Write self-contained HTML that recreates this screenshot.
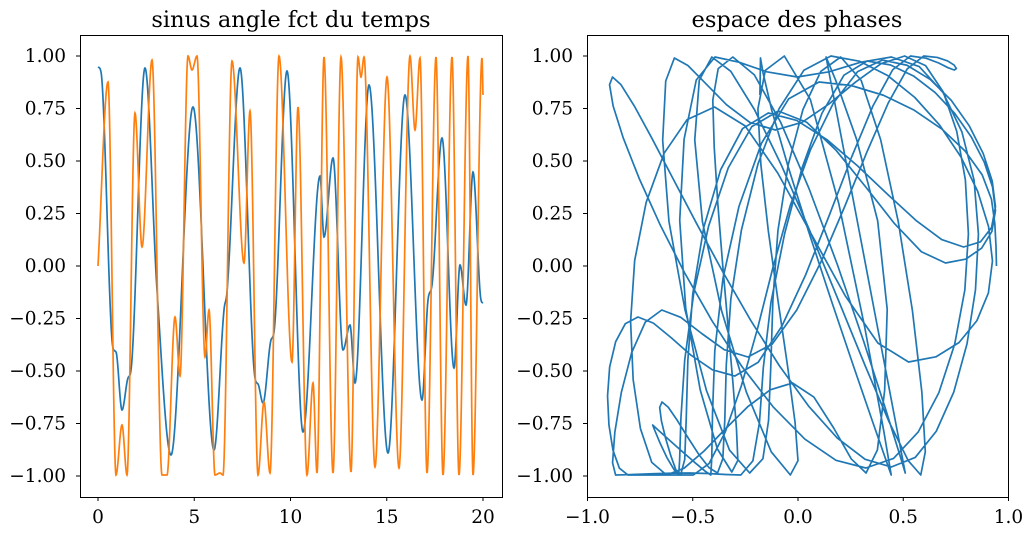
<!DOCTYPE html>
<html><head><meta charset="utf-8"><style>
body{margin:0;background:#fff;}
svg text{font-family:"DejaVu Serif","Liberation Serif",serif;font-size:18.5px;fill:#000;}
</style></head><body>
<svg id="s" width="1034" height="535" xmlns="http://www.w3.org/2000/svg">
<rect width="1034" height="535" fill="#fff"/>
<text x="291" y="27" text-anchor="middle" style="font-size:22.5px">sinus angle fct du temps</text>
<text x="797" y="27" text-anchor="middle" style="font-size:22.5px">espace des phases</text>
<g id="g"></g>
<rect x="80.5" y="35.5" width="422" height="462" fill="none" stroke="#000" stroke-width="1"/>
<rect x="587.5" y="35.5" width="421" height="462" fill="none" stroke="#000" stroke-width="1"/>
</svg>
<script>
function mono(P){var n=P.length,d=[],m=[];for(var i=0;i<n-1;i++)d.push((P[i+1][1]-P[i][1])/(P[i+1][0]-P[i][0]));
m[0]=d[0];m[n-1]=d[n-2];for(i=1;i<n-1;i++){m[i]=(d[i-1]*d[i]<=0)?0:(d[i-1]+d[i])/2;}
for(i=0;i<n-1;i++){if(d[i]==0){m[i]=m[i+1]=0;continue;}var a=m[i]/d[i],b=m[i+1]/d[i],s=a*a+b*b;if(s>9){var t=3/Math.sqrt(s);m[i]=t*a*d[i];m[i+1]=t*b*d[i];}}
return function(x){var k=0;while(k<n-2&&x>P[k+1][0])k++;var h=P[k+1][0]-P[k][0],t=(x-P[k][0])/h,t2=t*t,t3=t2*t;
return (2*t3-3*t2+1)*P[k][1]+(t3-2*t2+t)*h*m[k]+(-2*t3+3*t2)*P[k+1][1]+(t3-t2)*h*m[k+1];};}
var B=[[98,67],[101,72],[113,348],[116,352],[122,410],[128,378],[131,370],[145,68],[157,290],[171,455],[193,107],[214,450],[224,310],[227,292],[240,68],[255,378],[258,384],[263,403],[271,340],[274,332],[287,71],[303,432],[320,176],[324,237],[333,158],[343,350],[350,325],[355,383],[369,85],[388,453],[405,95],[422,400],[428,300],[432,285],[442,138],[454,368],[460,265],[466,305],[473,172],[481,300],[483,303]];
var O=[[98,266],[108,82],[116,475],[122,425],[127,475],[135,113],[142,247],[152,60],[162,475],[167,475],[175,317],[180,376],[188,56],[192,70],[197,56],[205,357],[209,310],[215,475],[220,473],[223,475],[232,61],[244,263],[250,111],[258,475],[264,402],[270,473],[279,56],[292,362],[298,107],[307,475],[313,383],[317,473],[324,57],[333,473],[341,57],[351,472],[358,57],[361,77],[364,57],[375,467],[387,77],[399,468],[410,56],[415,130],[420,58],[427,473],[436,57],[443,475],[452,57],[459,475],[468,56],[473,475],[482,58],[483,95]];
var fb=mono(B),fo=mono(O),pb="",po="",pp="";
for(var x=98;x<=483.001;x+=0.25){var yb=fb(x),yo=fo(x);pb+=(x==98?"M":"L")+x.toFixed(2)+","+yb.toFixed(2);po+=(x==98?"M":"L")+x.toFixed(2)+","+yo.toFixed(2);}
for(x=98;x<=483.001;x+=1){var yb=fb(x),yo=fo(x);var bv=(266-yb)/210,ov=(266-yo)/210;pp+=(x==98?"M":"L")+(797+210.5*bv).toFixed(2)+","+(266-210*ov).toFixed(2);}
var h="";
h+='<path d="'+pb+'" fill="none" stroke="#1f77b4" stroke-width="1.7"/>';
h+='<path d="'+po+'" fill="none" stroke="#ff7f0e" stroke-width="1.7"/>';
h+='<path d="'+pp+'" fill="none" stroke="#1f77b4" stroke-width="1.7" stroke-linejoin="round"/>';
var xt=[0,5,10,15,20];xt.forEach(function(v){var X=98+v*19.25;h+='<line x1="'+X+'" y1="497" x2="'+X+'" y2="501" stroke="#000"/><text x="'+X+'" y="523" text-anchor="middle">'+v+'</text>';});
var rx=["\u22121.0","\u22120.5","0.0","0.5","1.0"];for(var i=0;i<5;i++){var X=587.5+i*105.25;h+='<line x1="'+X+'" y1="497" x2="'+X+'" y2="501" stroke="#000"/><text x="'+X+'" y="523" text-anchor="middle">'+rx[i]+'</text>';}
for(i=0;i<9;i++){var v=1-i*0.25,Y=56+i*52.5,l=(v<0?"\u2212":"")+Math.abs(v).toFixed(2);
h+='<line x1="76" y1="'+Y+'" x2="80" y2="'+Y+'" stroke="#000"/><text x="66" y="'+(Y+6)+'" text-anchor="end">'+l+'</text>';
h+='<line x1="583" y1="'+Y+'" x2="587" y2="'+Y+'" stroke="#000"/><text x="573" y="'+(Y+6)+'" text-anchor="end">'+l+'</text>';}
document.getElementById("g").innerHTML=h;
</script>
</body></html>
